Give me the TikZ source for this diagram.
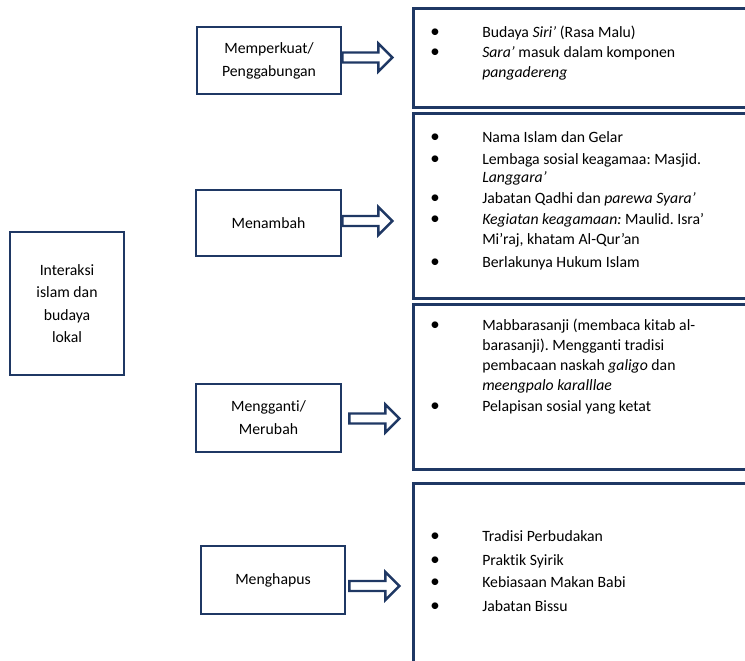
\documentclass[tikz,border=0pt]{standalone}
\usepackage{fontspec}
\setmainfont{Carlito}[Ligatures = NoCommon]
\frenchspacing
\usetikzlibrary{positioning, calc}
\definecolor{navy}{RGB}{31,56,100}
\tikzset{
every node/.style = {font = \fontsize{11.8}{17.25}\selectfont},
frame/.style = {rectangle, draw = navy, line width = 2pt, inner sep = 0pt,
   align = center},
listbox/.style = {rectangle, draw = navy, line width = 2pt, inner sep = 0pt,
   anchor = north west, minimum width = 261pt},
dot/.style = {anchor = base, inner sep = 0pt, scale = 1.2},
entry/.style = {anchor = base west, inner sep = 0pt},
hollow/.style = {draw = navy, line width = 1.8pt, line join = miter, fill = white}
}

\begin{document}
\begin{tikzpicture}[x = 0.75pt, y = -0.75pt]
\useasboundingbox (0,0) rectangle (745,660);
\clip (0,0) rectangle (745,660);

%% Source box
\node [frame, minimum width = 85.5pt, minimum height = 107.25pt,
   font = \fontsize{11.8}{16.9}\selectfont] (inter) at (67,303.5)
   {Interaksi\\islam dan\\budaya\\lokal};

%% Kinds of interaction
\node [frame, minimum width = 108pt, minimum height = 50.25pt] (b1) at (269,60.5)
   {Memperkuat/\\Penggabungan};
\node [frame, minimum width = 108.75pt, minimum height = 49.5pt] (b2) at (268.5,223)
   {Menambah};
\node [frame, minimum width = 108.75pt, minimum height = 51pt] (b3) at (268.5,418)
   {Mengganti/\\Merubah};
\node [frame, minimum width = 108pt, minimum height = 51pt] (b4) at (273,580)
   {Menghapus};

%% List boxes (open to the right)
\node [listbox, minimum height = 74.25pt] (r1) at (412,7) {};
\node [listbox, minimum height = 138.75pt] (r2) at (412,112) {};
\node [listbox, minimum height = 123.75pt] (r3) at (412,303) {};
\node [listbox, minimum height = 163.5pt] (r4) at (412,482) {};

%% Block arrows
\foreach \b/\gap/\dy in {b1/0/-3, b2/0/-2, b3/7/0.5, b4/3/6}
   \draw [hollow] ($(\b.east) + (\gap,\dy)$) ++(0,-5) -- ++(36,0) -- ++(0,-9)
      -- ++(14,14) -- ++(-14,14) -- ++(0,-9) -- ++(-36,0) -- cycle;

%% List entries: baseline / bullet / text
\foreach \y/\b/\t [count = \n] in {
   37.5/1/{Budaya \textit{Siri’} (Rasa Malu)},
   57.5/1/{\textit{Sara’} masuk dalam komponen},
   77.5/0/{\textit{pangadereng}},
   142.5/1/{Nama Islam dan Gelar},
   164.5/1/{Lembaga sosial keagamaa: Masjid.},
   182.5/0/{\textit{Langgara’}},
   203.5/1/{Jabatan Qadhi dan \textit{parewa Syara’}},
   224.5/1/{\textit{Kegiatan keagamaan:} Maulid. Isra’},
   244.5/0/{Mi’raj, khatam Al-Qur’an},
   267.5/1/{Berlakunya Hukum Islam},
   330.5/1/{Mabbarasanji (membaca kitab al-},
   350.5/0/{barasanji). Mengganti tradisi},
   370.5/0/{pembacaan naskah \textit{galigo} dan},
   390.5/0/{\textit{meengpalo karalllae}},
   411.5/1/{Pelapisan sosial yang ketat},
   541.5/1/{Tradisi Perbudakan},
   565.5/1/{Praktik Syirik},
   587.5/1/{Kebiasaan Makan Babi},
   611.5/1/{Jabatan Bissu}}{
   \node [entry] (line\n) at (482,\y) {\t};
   \ifnum \b = 1 \node [dot] (dot\n) at (435,\y) {\textbullet}; \fi
}

\end{tikzpicture}
\end{document}
